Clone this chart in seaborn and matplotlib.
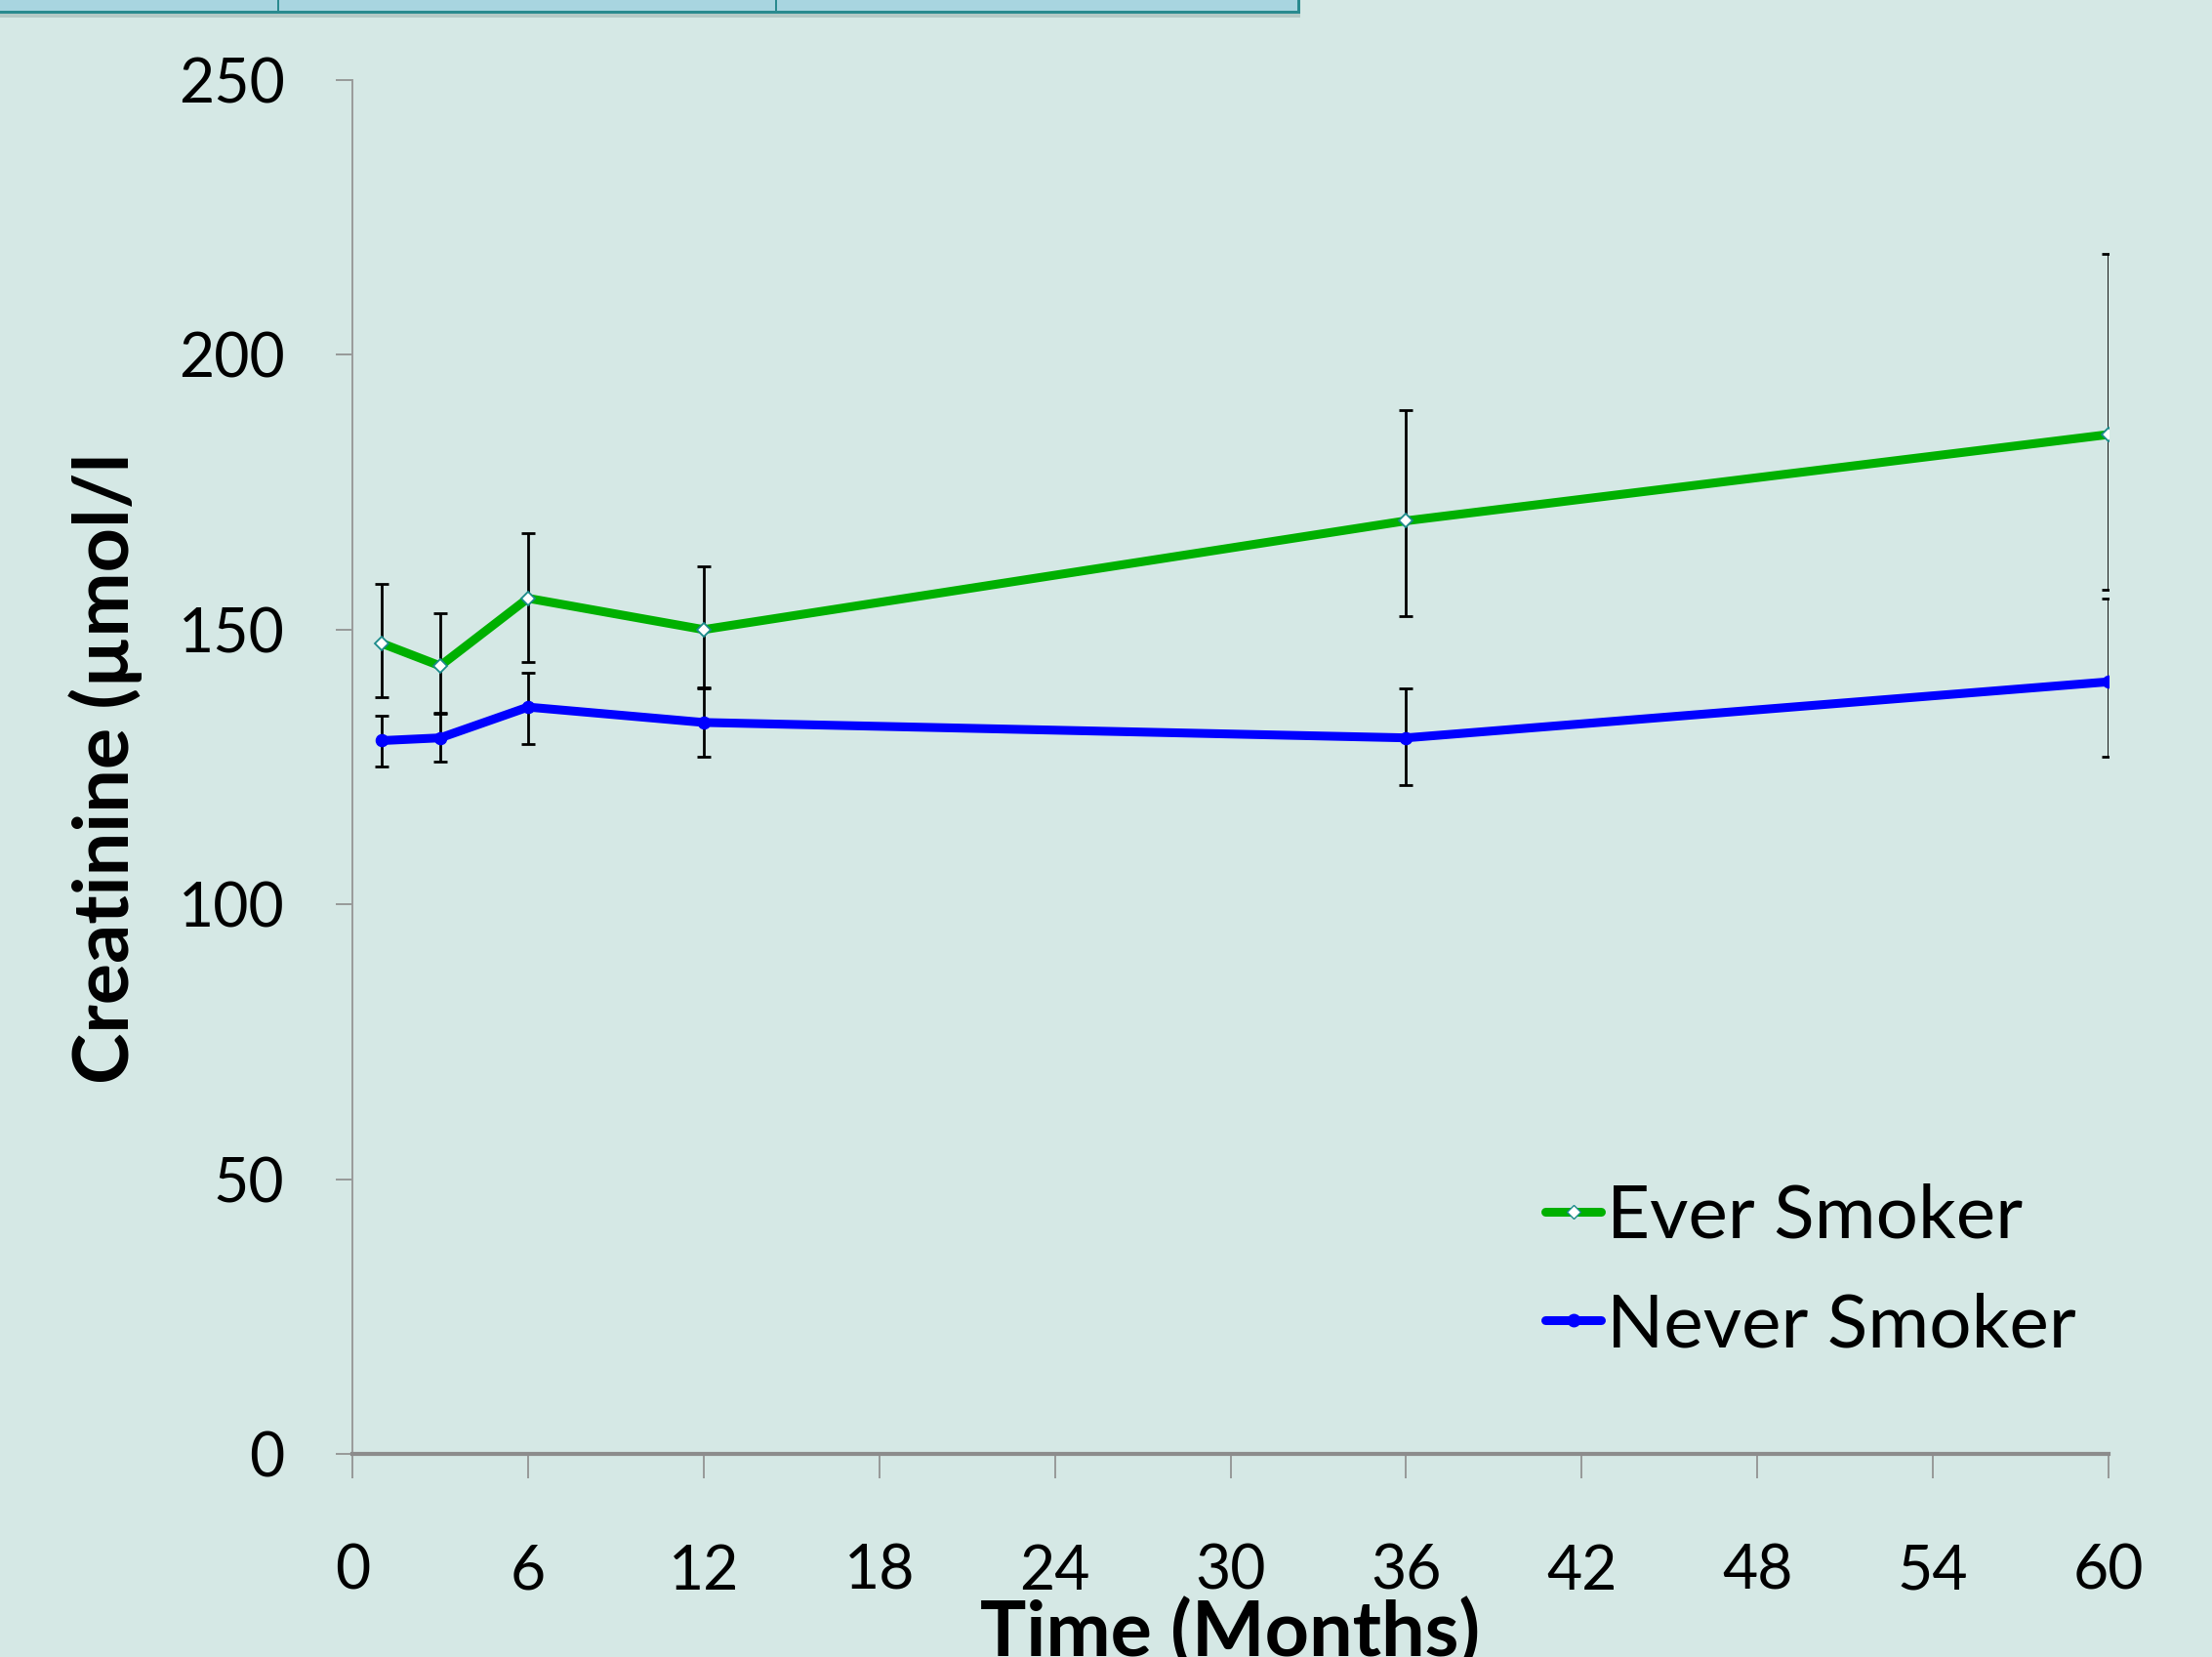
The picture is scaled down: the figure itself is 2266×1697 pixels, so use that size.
import numpy as np
import pandas as pd
import matplotlib
matplotlib.use("Agg")
import matplotlib.pyplot as plt
import seaborn as sns
from matplotlib.patches import Rectangle
from matplotlib.lines import Line2D

# ---- data ----
months = [1, 3, 6, 12, 36, 60]
ever_mean = [147.5, 143.4, 155.7, 150.0, 169.8, 185.5]
ever_upper = [158.3, 152.9, 167.5, 161.6, 189.9, 218.4]
ever_lower = [137.7, 134.6, 144.1, 139.3, 152.4, 157.2]
never_mean = [129.8, 130.3, 135.9, 133.1, 130.3, 140.5]
never_upper = [134.4, 134.9, 142.1, 139.5, 139.3, 155.7]
never_lower = [125.1, 125.9, 129.2, 126.9, 121.8, 126.9]
series_names = ["Ever Smoker", "Never Smoker"]
x_ticks = [0, 6, 12, 18, 24, 30, 36, 42, 48, 54, 60]
y_ticks = [0, 50, 100, 150, 200, 250]

BG = "#D5E8E5"
GREEN = "#00B000"
BLUE = "#0000FF"

sns.set_style("white")
plt.rcParams["font.family"] = ["Lato", "DejaVu Sans"]
plt.rcParams["text.color"] = "black"
plt.rcParams["axes.labelcolor"] = "black"

W, H = 2266, 1697
fig = plt.figure(figsize=(W / 100, H / 100), dpi=100, facecolor=BG)
ax = fig.add_axes([361 / W, 1 - 1489 / H, (2160 - 361) / W, (1489 - 82) / H])
ax.set_facecolor(BG)

df_ever = pd.DataFrame({"month": months, "value": ever_mean})
df_never = pd.DataFrame({"month": months, "value": never_mean})

# error bars
ax.errorbar(months, ever_mean,
            yerr=[np.array(ever_mean) - np.array(ever_lower), np.array(ever_upper) - np.array(ever_mean)],
            fmt="none", ecolor="black", elinewidth=2.0, capsize=5, capthick=2.0, zorder=2)
ax.errorbar(months, never_mean,
            yerr=[np.array(never_mean) - np.array(never_lower), np.array(never_upper) - np.array(never_mean)],
            fmt="none", ecolor="black", elinewidth=2.0, capsize=5, capthick=2.0, zorder=2)

sns.lineplot(data=df_ever, x="month", y="value", ax=ax, color=GREEN, linewidth=6.5,
             marker="D", markersize=7, markerfacecolor="white", markeredgecolor="#1A8A8A",
             markeredgewidth=1.3, zorder=3, label=series_names[0])
sns.lineplot(data=df_never, x="month", y="value", ax=ax, color=BLUE, linewidth=6.5,
             marker="o", markersize=9, markerfacecolor=BLUE, markeredgecolor=BLUE,
             zorder=3, label=series_names[1])

ax.set_xlim(0, 60)
ax.set_ylim(0, 250)
ax.set_xticks(x_ticks)
ax.set_yticks(y_ticks)
ax.set_xticklabels([str(t) for t in x_ticks])
ax.set_yticklabels([str(t) for t in y_ticks])
ax.tick_params(axis="x", direction="out", length=18, width=1.2, color="#8C8C8C",
               pad=48, labelsize=45, labelcolor="black")
ax.tick_params(axis="y", direction="out", length=12, width=1.2, color="#8C8C8C",
               pad=38, labelsize=45, labelcolor="black")
ax.xaxis.set_ticks_position("bottom")
ax.yaxis.set_ticks_position("left")
for s in ["top", "right"]:
    ax.spines[s].set_visible(False)
ax.spines["left"].set_color("#9A9A9A")
ax.spines["left"].set_linewidth(1.4)
ax.spines["bottom"].set_color("#8C8C8C")
ax.spines["bottom"].set_linewidth(3)
ax.set_xlabel("")
ax.set_ylabel("")

fig.text((361 + 2160) / 2 / W, 1 - 1636 / H, "Time (Months)", ha="center", va="top",
         fontsize=57, fontweight="bold", color="black")
fig.text(108 / W, 1 - 787 / H, "Creatinine (µmol/l", ha="center", va="center",
         rotation=90, fontsize=57, fontweight="bold", color="black")

# legend
handles = [
    Line2D([], [], color=GREEN, linewidth=6.5, marker="D", markersize=7,
           markerfacecolor="white", markeredgecolor="#1A8A8A"),
    Line2D([], [], color=BLUE, linewidth=6.5, marker="o", markersize=9,
           markerfacecolor=BLUE, markeredgecolor=BLUE),
]
leg = ax.legend(handles, series_names, loc="upper left",
                bbox_to_anchor=(1583 / W, 1 - 1212 / H), bbox_transform=fig.transFigure,
                frameon=False, fontsize=55, handlelength=0.75, handletextpad=0.08,
                labelspacing=0.55, borderpad=0, borderaxespad=0)
for t in leg.get_texts():
    t.set_color("black")

# top table fragment
fig.patches.append(Rectangle((0, 1 - 14 / H), 1332 / W, 14 / H, transform=fig.transFigure,
                             facecolor="#A8D5E0", edgecolor="none", zorder=1))
fig.patches.append(Rectangle((0, 1 - 14 / H), 1332 / W, 3 / H, transform=fig.transFigure,
                             facecolor="#2A8A8F", edgecolor="none", zorder=2))
fig.patches.append(Rectangle((0, 1 - 18 / H), 1332 / W, 4 / H, transform=fig.transFigure,
                             facecolor="#B5C9C6", edgecolor="none", zorder=1))
for xv in [284, 794]:
    fig.patches.append(Rectangle((xv / W, 1 - 14 / H), 2 / W, 14 / H, transform=fig.transFigure,
                                 facecolor="#2A8A8F", edgecolor="none", zorder=2))
fig.patches.append(Rectangle((1329 / W, 1 - 14 / H), 3 / W, 14 / H, transform=fig.transFigure,
                             facecolor="#2A8A8F", edgecolor="none", zorder=2))

fig.savefig("out.png", dpi=100, facecolor=BG)
